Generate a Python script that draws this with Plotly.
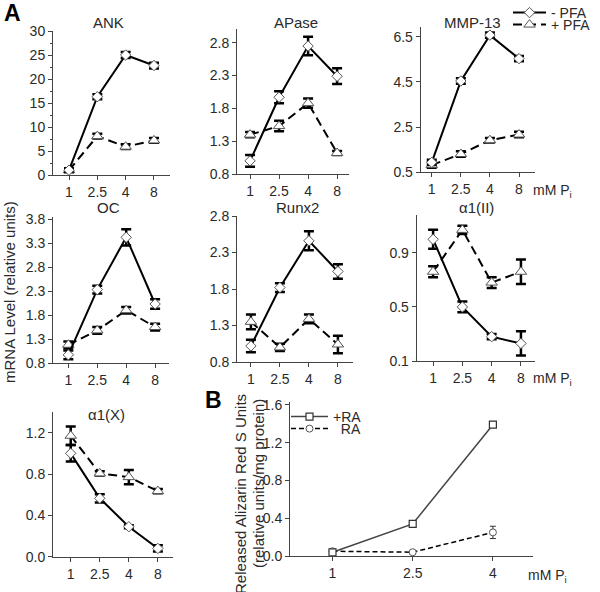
import plotly.graph_objects as go

# ---------------- data ----------------
pi_levels = ["1", "2.5", "4", "8"]

ank_minus = [1.0, 16.3, 25.0, 22.8]
ank_minus_err = [0.4, 0.5, 0.6, 0.6]
ank_plus = [1.0, 8.1, 5.9, 7.2]
ank_plus_err = [0.4, 0.5, 0.5, 0.5]

apase_minus = [1.0, 1.97, 2.75, 2.29]
apase_minus_err = [0.09, 0.09, 0.14, 0.12]
apase_plus = [1.40, 1.53, 1.88, 1.12]
apase_plus_err = [0.04, 0.08, 0.07, 0.03]

mmp_minus = [0.94, 4.54, 6.57, 5.53]
mmp_minus_err = [0.12, 0.12, 0.12, 0.12]
mmp_plus = [0.82, 1.31, 1.92, 2.17]
mmp_plus_err = [0.12, 0.12, 0.1, 0.12]

oc_minus = [0.97, 2.33, 3.42, 2.03]
oc_minus_err = [0.09, 0.08, 0.17, 0.1]
oc_plus = [1.18, 1.48, 1.90, 1.55]
oc_plus_err = [0.07, 0.07, 0.07, 0.07]

runx_minus = [1.02, 1.82, 2.46, 2.04]
runx_minus_err = [0.085, 0.06, 0.13, 0.1]
runx_plus = [1.35, 1.0, 1.39, 1.04]
runx_plus_err = [0.1, 0.05, 0.06, 0.12]

col2_minus = [1.0, 0.5, 0.28, 0.23]
col2_minus_err = [0.07, 0.04, 0.02, 0.09]
col2_plus = [0.76, 1.07, 0.68, 0.76]
col2_plus_err = [0.04, 0.03, 0.04, 0.09]

col10_minus = [1.0, 0.565, 0.29, 0.08]
col10_minus_err = [0.08, 0.04, 0.015, 0.03]
col10_plus = [1.17, 0.806, 0.77, 0.635]
col10_plus_err = [0.09, 0.02, 0.07, 0.02]

b_levels = ["1", "2.5", "4"]
ra_plus = [0.039, 0.34, 1.39]
ra_plus_err = [0.02, 0.02, 0.03]
ra_minus = [0.05, 0.04, 0.25]
ra_minus_err = [0.01, 0.01, 0.065]

FONT = "Arial, Liberation Sans, sans-serif"
TXT = "#2a2a2a"
W, H = 600, 592

fig = go.Figure()

panels = [
    ("ANK", ank_minus, ank_minus_err, ank_plus, ank_plus_err, (53, 170), (175, 31), [-0.565, 3.565], [0, 30], 0, 5, "d", True, (108, 22)),
    ("APase", apase_minus, apase_minus_err, apase_plus, apase_plus_err, (237, 349), (174, 29), [-0.45, 3.41], [0.8, 3.01], 0.8, 0.5, ".1f", False, (296, 22)),
    ("MMP-13", mmp_minus, mmp_minus_err, mmp_plus, mmp_plus_err, (420.7, 535), (172.3, 27), [-0.38, 3.55], [0.5, 6.93], 0.5, 2, ".1f", False, (472, 22)),
    ("OC", oc_minus, oc_minus_err, oc_plus, oc_plus_err, (53, 169), (363, 216.7), [-0.53, 3.48], [0.8, 3.85], 0.8, 0.5, ".1f", False, (108, 208)),
    ("Runx2", runx_minus, runx_minus_err, runx_plus, runx_plus_err, (237, 353), (362, 216), [-0.48, 3.52], [0.8, 2.8], 0.8, 0.5, ".1f", False, (297, 207)),
    ("α1(II)", col2_minus, col2_minus_err, col2_plus, col2_plus_err, (416.7, 535), (361, 215), [-0.56, 3.48], [0.1, 1.18], 0.1, 0.4, ".1f", False, (476, 208)),
    ("α1(X)", col10_minus, col10_minus_err, col10_plus, col10_plus_err, (53, 173), (556.7, 412), [-0.61, 3.52], [0, 1.4], 0, 0.4, ".1f", False, (106, 414)),
]

annotations = []

def ax_common():
    return dict(
        showline=True, linecolor="#444", linewidth=1,
        ticks="outside", ticklen=4, tickcolor="#444", tickwidth=1,
        showgrid=False, zeroline=False, automargin=False,
        tickfont=dict(family=FONT, size=14, color=TXT),
    )

for i, (name, mn, mne, pl, ple, xpx, ypx, xr, yr, t0, dt, fmt, minor, txy) in enumerate(panels):
    k = "" if i == 0 else str(i + 1)
    first = i == 0
    fig.add_trace(go.Scatter(
        x=pi_levels, y=pl, mode="lines+markers", name="+ PFA",
        xaxis="x" + k, yaxis="y" + k,
        line=dict(color="black", width=2, dash="9px,5px"),
        marker=dict(symbol="triangle-up", size=10, color="white", line=dict(color="#555", width=1)),
        error_y=dict(type="data", array=ple, color="black", thickness=2.5, width=5),
        showlegend=first, legend="legend2",
    ))
    fig.add_trace(go.Scatter(
        x=pi_levels, y=mn, mode="lines+markers", name="- PFA",
        xaxis="x" + k, yaxis="y" + k,
        line=dict(color="black", width=2),
        marker=dict(symbol="diamond", size=8, color="white", line=dict(color="#555", width=1)),
        error_y=dict(type="data", array=mne, color="black", thickness=2.5, width=5),
        showlegend=first, legend="legend",
    ))
    xa = ax_common()
    xa.update(domain=[xpx[0] / W, xpx[1] / W], anchor="y" + k, type="category",
              categoryorder="array", categoryarray=pi_levels, range=xr)
    ya = ax_common()
    ya.update(domain=[1 - ypx[0] / H, 1 - ypx[1] / H], anchor="x" + k, range=yr,
              tick0=t0, dtick=dt, tickformat=fmt)
    if minor:
        ya["minor"] = dict(ticks="outside", ticklen=2.5, tickcolor="#444", dtick=dt / 2, tick0=t0)
    fig.update_layout(**{"xaxis" + k: xa, "yaxis" + k: ya})
    annotations.append(dict(text=name, x=txy[0] / W, y=1 - txy[1] / H, xref="paper", yref="paper",
                            showarrow=False, xanchor="center", yanchor="middle",
                            font=dict(family=FONT, size=15, color=TXT)))

# ---------------- panel B ----------------
kb = "8"
fig.add_trace(go.Scatter(
    x=b_levels, y=ra_minus, mode="lines+markers", name="\u2007RA",
    xaxis="x" + kb, yaxis="y" + kb,
    line=dict(color="black", width=1.5, dash="5px,3px"),
    marker=dict(symbol="circle", size=7, color="white", line=dict(color="#555", width=1)),
    error_y=dict(type="data", array=ra_minus_err, color="#333", thickness=1, width=3),
    legend="legend4",
))
fig.add_trace(go.Scatter(
    x=b_levels, y=ra_plus, mode="lines+markers", name="+RA",
    xaxis="x" + kb, yaxis="y" + kb,
    line=dict(color="#444", width=1.5),
    marker=dict(symbol="square", size=7, color="white", line=dict(color="#333", width=1.2)),
    error_y=dict(type="data", array=ra_plus_err, color="#333", thickness=1, width=3),
    legend="legend3",
))
xb = ax_common()
xb.update(domain=[290 / W, 533 / W], anchor="y8", type="category", categoryorder="array",
          categoryarray=b_levels, range=[-0.53, 2.5])
yb = ax_common()
yb.update(domain=[1 - 556 / H, 1 - 402 / H], anchor="x8", range=[0, 1.63], tick0=0, dtick=0.4,
          tickformat=".1f")
fig.update_layout(xaxis8=xb, yaxis8=yb)

def ann(text, x, y, size=14, bold=False, angle=0, xanchor="center"):
    annotations.append(dict(text=("<b>%s</b>" % text) if bold else text, x=x / W, y=1 - y / H,
                            xref="paper", yref="paper", showarrow=False, textangle=angle,
                            xanchor=xanchor, yanchor="middle",
                            font=dict(family=FONT, size=size, color=TXT if not bold else "black")))

ann("A", 12, 13, size=23, bold=True)
ann("B", 213, 400, size=23, bold=True)
ann("mM P<sub>i</sub>", 531, 191, xanchor="left")
ann("mM P<sub>i</sub>", 531, 379, xanchor="left")
ann("mM P<sub>i</sub>", 526, 576, xanchor="left")
ann("mRNA Level (relative units)", 9, 292, size=15, angle=-90)
ann("Released Alizarin Red S Units", 240, 494, size=15, angle=-90)
ann("(relative units/mg protein)", 258, 484, size=15, angle=-90)

leg = dict(font=dict(family=FONT, size=14, color=TXT), bgcolor="rgba(0,0,0,0)",
           xanchor="left", yanchor="middle", borderwidth=0)
fig.update_layout(
    legend=dict(leg, x=508 / W, y=1 - 13 / H, itemwidth=33),
    legend2=dict(leg, x=508 / W, y=1 - 25 / H, itemwidth=33),
    legend3=dict(leg, x=286 / W, y=1 - 417 / H, itemwidth=37),
    legend4=dict(leg, x=286 / W, y=1 - 429 / H, itemwidth=37),
)

fig.update_layout(
    width=W, height=H, margin=dict(l=0, r=0, t=0, b=0, autoexpand=False),
    paper_bgcolor="white", plot_bgcolor="white",
    annotations=annotations,
    font=dict(family=FONT, color=TXT),
)

fig.write_html("out.html", config={"displayModeBar": False},
               post_script="document.body.style.margin='0';document.body.style.overflow='hidden';")
